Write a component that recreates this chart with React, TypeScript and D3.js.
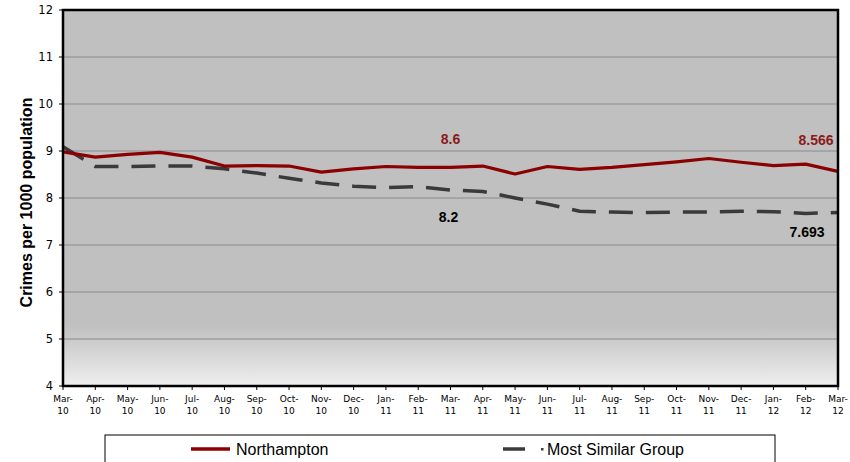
import React from "react";
import * as d3 from "d3";

const months = [
  "Mar-10","Apr-10","May-10","Jun-10","Jul-10","Aug-10","Sep-10","Oct-10","Nov-10","Dec-10",
  "Jan-11","Feb-11","Mar-11","Apr-11","May-11","Jun-11","Jul-11","Aug-11","Sep-11","Oct-11",
  "Nov-11","Dec-11","Jan-12","Feb-12","Mar-12",
];
const northampton = [
  8.98, 8.87, 8.93, 8.97, 8.87, 8.68, 8.69, 8.68, 8.55, 8.62,
  8.67, 8.65, 8.65, 8.68, 8.51, 8.67, 8.61, 8.65, 8.71, 8.77,
  8.84, 8.76, 8.69, 8.72, 8.566,
];
const msg = [
  9.09, 8.67, 8.67, 8.68, 8.68, 8.62, 8.53, 8.42, 8.32, 8.25,
  8.22, 8.24, 8.17, 8.14, 8.0, 7.87, 7.72, 7.70, 7.69, 7.70,
  7.70, 7.72, 7.71, 7.67, 7.693,
];
const yTicks = [4, 5, 6, 7, 8, 9, 10, 11, 12];
const annotations = [
  { i: 12, v: 8.6, text: "8.6", series: "n" },
  { i: 24, v: 8.566, text: "8.566", series: "n" },
  { i: 12, v: 8.2, text: "8.2", series: "m" },
  { i: 24, v: 7.693, text: "7.693", series: "m" },
];

export default function App() {
  const W = 850, H = 462;
  const left = 63, right = 838, top = 10, bottom = 386;
  const x = d3.scaleLinear().domain([0, months.length - 1]).range([left, right]);
  const y = d3.scaleLinear().domain([4, 12]).range([bottom, top]);
  const line = d3.line<number>().x((_, i) => x(i)).y((d) => y(d));
  const red = "#8B0000";
  const dark = "#3a3a3a";
  const tickFont = "Tahoma, 'DejaVu Sans', sans-serif";
  const labelPos = (a: { i: number; v: number; series: string }) => {
    if (a.series === "n") return { dx: a.i === 24 ? -22 : 0, yy: y(a.v) - 26 };
    return { dx: a.i === 24 ? -31 : -2, yy: y(a.v) + (a.i === 24 ? 25 : 33) };
  };

  return (
    <svg width={W} height={H} style={{ position: "absolute", left: 0, top: 0 }}>
      <defs>
        <linearGradient id="bg" x1="0" y1="0" x2="0" y2="1">
          <stop offset="0" stopColor="#c0c0c0" />
          <stop offset="0.84" stopColor="#c0c0c0" />
          <stop offset="1" stopColor="#efefef" />
        </linearGradient>
        <clipPath id="clip">
          <rect x={left} y={top} width={right - left} height={bottom - top} />
        </clipPath>
      </defs>
      <rect x={0} y={0} width={W} height={H} fill="#fff" />
      <rect x={left} y={top} width={right - left} height={bottom - top} fill="url(#bg)" />
      {yTicks.map((t) => (
        <g key={t}>
          {t > 4 && t < 12 && (
            <line x1={left} x2={right} y1={y(t)} y2={y(t)} stroke="#8a8a8a" strokeWidth={1.2} />
          )}
          <line x1={left - 4} x2={left} y1={y(t)} y2={y(t)} stroke="#000" strokeWidth={1} />
          <text x={left - 10} y={y(t) + 4} textAnchor="end" fontFamily={tickFont} fontSize={11.5} fill="#000">
            {t}
          </text>
        </g>
      ))}
      {months.map((m, i) => {
        const [a, b] = m.split("-");
        return (
          <g key={m}>
            <line x1={x(i)} x2={x(i)} y1={bottom} y2={bottom + 4} stroke="#000" strokeWidth={1} />
            <text x={x(i)} y={bottom + 16} textAnchor="middle" fontFamily={tickFont} fontSize={9} fill="#000">
              {a + "-"}
            </text>
            <text x={x(i)} y={bottom + 28} textAnchor="middle" fontFamily={tickFont} fontSize={9} fill="#000">
              {b}
            </text>
          </g>
        );
      })}
      <g clipPath="url(#clip)">
        <path d={line(msg) || ""} fill="none" stroke={dark} strokeWidth={3.5} strokeDasharray="24 13" />
        <path d={line(northampton) || ""} fill="none" stroke={red} strokeWidth={3.2} strokeLinejoin="round" />
      </g>
      <rect x={left} y={top} width={right - left} height={bottom - top} fill="none" stroke="#000" strokeWidth={2.5} />
      {annotations.map((a, k) => {
        const p = labelPos(a);
        return (
          <text
            key={k}
            x={x(a.i) + p.dx}
            y={p.yy}
            textAnchor="middle"
            fontFamily="'Liberation Sans', Arial, sans-serif"
            fontWeight="bold"
            fontSize={14}
            fill={a.series === "n" ? "#8B1A1A" : "#000"}
          >
            {a.text}
          </text>
        );
      })}
      <text
        transform={`translate(32,${(82 + 323) / 2}) rotate(-90)`}
        textAnchor="middle"
        fontFamily="'Liberation Sans', Arial, sans-serif"
        fontWeight="bold"
        fontSize={16}
        fill="#000"
      >
        Crimes per 1000 population
      </text>
      <rect x={105} y={435} width={670} height={40} fill="#fff" stroke="#000" strokeWidth={1} />
      <line x1={191} x2={230} y1={449} y2={449} stroke={red} strokeWidth={3.5} />
      <text x={236} y={455} fontFamily="'Liberation Sans', Arial, sans-serif" fontSize={16} fill="#000">
        Northampton
      </text>
      <line x1={503} x2={525} y1={449} y2={449} stroke={dark} strokeWidth={3.5} />
      <rect x={541} y={448} width={2.5} height={2.5} fill={dark} />
      <text x={547} y={455} fontFamily="'Liberation Sans', Arial, sans-serif" fontSize={16} fill="#000">
        Most Similar Group
      </text>
    </svg>
  );
}
